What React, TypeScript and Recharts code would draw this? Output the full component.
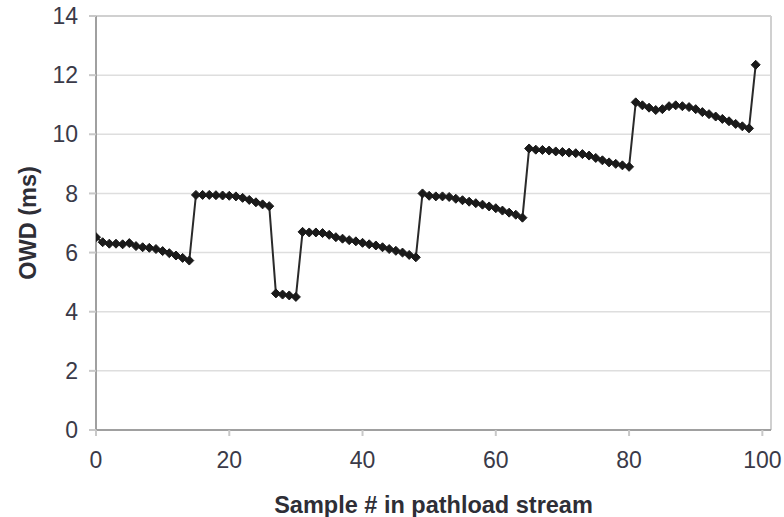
import React from "react";
import { LineChart, Line, XAxis, YAxis, CartesianGrid, ReferenceLine } from "recharts";

const samples: number[] = Array.from({ length: 100 }, (_, i) => i);
const owd: number[] = [
  6.52, 6.35, 6.3, 6.3, 6.28, 6.32, 6.22, 6.18, 6.16, 6.12, 6.05, 5.98, 5.9, 5.82, 5.73,
  7.95, 7.95, 7.95, 7.94, 7.93, 7.92, 7.9, 7.85, 7.78, 7.7, 7.63, 7.57,
  4.62, 4.58, 4.55, 4.5,
  6.7, 6.68, 6.68, 6.66, 6.6, 6.52, 6.47, 6.42, 6.38, 6.33, 6.28, 6.24, 6.18, 6.12, 6.06, 6.0, 5.92, 5.84,
  8.0, 7.92, 7.9, 7.9, 7.88, 7.82, 7.77, 7.72, 7.67, 7.62, 7.56, 7.5, 7.42, 7.35, 7.28, 7.18,
  9.52, 9.48, 9.47, 9.45, 9.42, 9.4, 9.38, 9.36, 9.33, 9.28, 9.2, 9.12, 9.05, 9.0, 8.95, 8.9,
  11.08, 10.98, 10.9, 10.82, 10.85, 10.95, 10.98, 10.95, 10.92, 10.85, 10.75, 10.68, 10.6, 10.52, 10.44, 10.35, 10.27, 10.2, 12.35,
];
const xTicks: number[] = [0, 20, 40, 60, 80, 100];
const yTicks: number[] = [0, 2, 4, 6, 8, 10, 12, 14];

const data = samples.map((s, i) => ({ sample: s, owd: owd[i] }));

const Diamond = (props: any) => {
  const { cx, cy } = props;
  if (cx == null || cy == null) return null;
  const r = 4.5;
  return (
    <polygon
      points={`${cx},${cy - r} ${cx + r},${cy} ${cx},${cy + r} ${cx - r},${cy}`}
      fill="#1a1a1a"
      stroke="#1a1a1a"
      strokeWidth={1}
    />
  );
};

const tickStyle = { fontFamily: "Liberation Sans, Arial, sans-serif", fontSize: 23, fill: "#3a3a48" };
const titleStyle = { fontFamily: "Liberation Sans, Arial, sans-serif", fontSize: 23.5, fontWeight: "bold", fill: "#2e2e36" };

export default function App() {
  return (
    <div style={{ position: "absolute", left: 0, top: 0, width: 784, height: 517, background: "#fff" }}>
      <LineChart
        width={784}
        height={517}
        data={data}
        margin={{ top: 16, right: 13, left: 0, bottom: 0 }}
      >
        <CartesianGrid vertical={false} stroke="#dedede" strokeWidth={1.5} />
        <ReferenceLine y={14} stroke="#d0d0d0" strokeWidth={2} />
        <ReferenceLine x={101.3} stroke="#d0d0d0" strokeWidth={2} />
        <XAxis
          dataKey="sample"
          type="number"
          domain={[0, 101.3]}
          ticks={xTicks}
          allowDataOverflow
          height={87}
          stroke="#a0a0a0"
          strokeWidth={2}
          tickSize={6}
          tickMargin={16}
          tick={tickStyle}
          tickLine={{ stroke: "#c8c8c8" }}
          label={{
            value: "Sample # in pathload stream",
            position: "insideBottom",
            offset: 4,
            style: titleStyle,
          }}
        />
        <YAxis
          type="number"
          domain={[0, 14]}
          ticks={yTicks}
          width={96}
          stroke="#a0a0a0"
          strokeWidth={2}
          tickSize={7}
          tickMargin={11}
          tick={tickStyle}
          tickLine={{ stroke: "#c8c8c8" }}
          label={{
            value: "OWD (ms)",
            angle: -90,
            position: "center",
            dx: -20,
            style: { ...titleStyle, textAnchor: "middle" },
          }}
        />
        <Line
          dataKey="owd"
          stroke="#2a2a2a"
          strokeWidth={2}
          dot={<Diamond />}
          activeDot={false}
          isAnimationActive={false}
        />
      </LineChart>
    </div>
  );
}
